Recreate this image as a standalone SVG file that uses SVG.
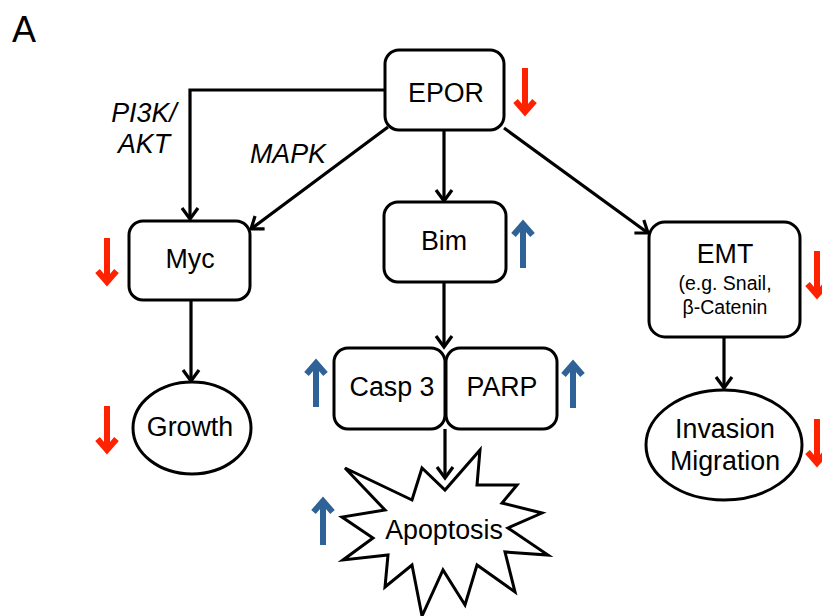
<svg xmlns="http://www.w3.org/2000/svg" xmlns:xlink="http://www.w3.org/1999/xlink" width="822" height="616" viewBox="0 0 822 616">
<style>
.box{fill:#fff;stroke:#000;stroke-width:3}
.t{font-family:"Liberation Sans",Arial,sans-serif;font-size:26.8px;fill:#000;text-anchor:middle}
.s{font-size:19.5px}
.it{font-style:italic}
.con{fill:none;stroke:#000;stroke-width:3.2}
.red{fill:none;stroke:#FF2200;stroke-width:6}
.blue{fill:none;stroke:#2F6398;stroke-width:6}
</style>
<defs>
<marker id="ah" markerUnits="userSpaceOnUse" markerWidth="30" markerHeight="30" viewBox="-15 -15 30 30" refX="0" refY="0" orient="auto">
<path d="M-11,-8 L0,0 L-11,8" fill="none" stroke="#000" stroke-width="3.2"/>
</marker>
<path id="dn" d="M0,0 V44 M-9.5,33 L0,44 L9.5,33"/>
</defs>
<rect width="822" height="616" fill="#fff"/>
<text class="t" x="12" y="42" style="font-size:36px;text-anchor:start">A</text>
<g id="connectors">
<path class="con" d="M385,90 H190 V219" marker-end="url(#ah)"/>
<path class="con" d="M388,127 L251,229" marker-end="url(#ah)"/>
<path class="con" d="M444,130 V201" marker-end="url(#ah)"/>
<path class="con" d="M504,128 L648,233" marker-end="url(#ah)"/>
<path class="con" d="M191,300 V381" marker-end="url(#ah)"/>
<path class="con" d="M444,282 V347" marker-end="url(#ah)"/>
<path class="con" d="M445,429 V478" marker-end="url(#ah)"/>
<path class="con" d="M724,337 V388" marker-end="url(#ah)"/>
</g>
<g id="labels">
<text class="t it" x="144" y="122">PI3K/</text>
<text class="t it" x="144" y="153">AKT</text>
<text class="t it" x="250" y="163" style="text-anchor:start">MAPK</text>
</g>
<g id="EPOR">
<rect class="box" x="385" y="50" width="119" height="80" rx="14"/>
<text class="t" x="446" y="102">EPOR</text>
</g>
<g id="Myc">
<rect class="box" x="129" y="221" width="121" height="79" rx="14"/>
<text class="t" x="190" y="268">Myc</text>
</g>
<g id="Growth">
<ellipse class="box" cx="192" cy="428" rx="59" ry="46"/>
<text class="t" x="190" y="436">Growth</text>
</g>
<g id="Bim">
<rect class="box" x="384" y="202" width="122" height="80" rx="14"/>
<text class="t" x="444" y="250">Bim</text>
</g>
<g id="Casp3">
<rect class="box" x="334" y="348" width="111" height="81" rx="14"/>
<text class="t" x="392" y="396">Casp 3</text>
</g>
<g id="PARP">
<rect class="box" x="446" y="348" width="111" height="81" rx="14"/>
<text class="t" x="502" y="396">PARP</text>
</g>
<g id="Apoptosis">
<polygon class="box" points="345,468 412,500 422,468 445,490 480,450 477,485 517,485 502,503 542,513 508,528 548,555 505,552 515,592 477,565 465,605 443,570 422,616 412,565 385,587 388,555 343,560 373,538 342,517 385,510"/>
<text class="t" x="444" y="539">Apoptosis</text>
</g>
<g id="EMT">
<rect class="box" x="649" y="222" width="151" height="115" rx="16"/>
<text class="t" x="725" y="263">EMT</text>
<text class="t s" x="725" y="290">(e.g. Snail,</text>
<text class="t s" x="725" y="314">β-Catenin</text>
</g>
<g id="Invasion">
<ellipse class="box" cx="724" cy="445" rx="78" ry="55"/>
<text class="t" x="725" y="438">Invasion</text>
<text class="t" x="725" y="470">Migration</text>
</g>
<g id="indicators">
<use xlink:href="#dn" class="red" x="525" y="68"/>
<use xlink:href="#dn" class="red" x="107" y="238"/>
<use xlink:href="#dn" class="red" x="107" y="406"/>
<use xlink:href="#dn" class="red" x="817" y="251"/>
<use xlink:href="#dn" class="red" x="817" y="419"/>
<use xlink:href="#dn" class="blue" transform="translate(523,268) rotate(180)"/>
<use xlink:href="#dn" class="blue" transform="translate(316,407) rotate(180)"/>
<use xlink:href="#dn" class="blue" transform="translate(573,408) rotate(180)"/>
<use xlink:href="#dn" class="blue" transform="translate(323,545) rotate(180)"/>
</g>
</svg>
